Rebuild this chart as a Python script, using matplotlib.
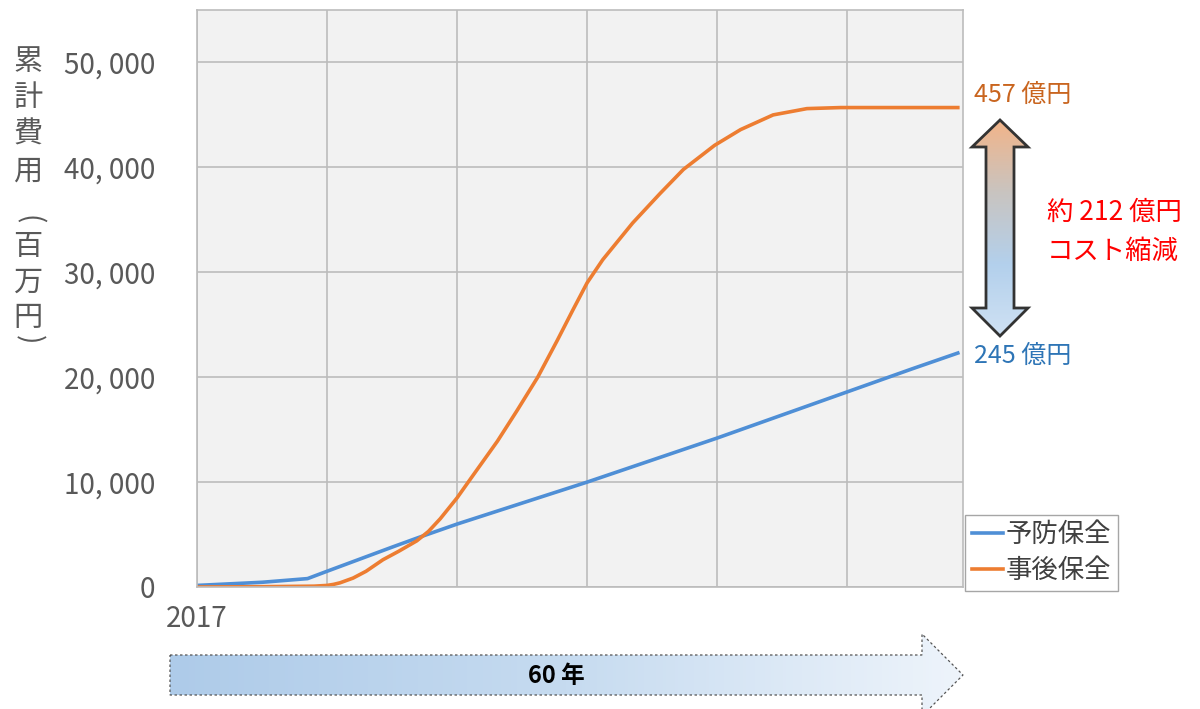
import numpy as np
import matplotlib
matplotlib.use("Agg")
from matplotlib import pyplot as plt
from matplotlib.patches import Polygon
from matplotlib.colors import LinearSegmentedColormap

plt.rcParams['font.family'] = ['Noto Sans CJK JP', 'DejaVu Sans']

# data (years after 2017, cumulative cost in million yen)
start_year = 2017
yobo_years = [0, 5, 8.5, 10, 15, 17, 20, 25, 30, 35, 40, 45, 50, 55, 58.5]
yobo_cost = [150, 450, 800, 1500, 3800, 4700, 6000, 8000, 10000, 12100, 14200, 16400, 18600, 20800, 22300]

jigo_years = [0, 5, 9, 10, 10.5, 11, 12, 13, 14.3, 15.5, 16.9, 17.8, 18.7, 20, 21.2, 23.1, 24.6,
              26.2, 27.7, 28.9, 30, 31.2, 33.5, 35.6, 37.4, 39.8, 41.8, 44.3, 46.9, 49.5, 58.5]
jigo_cost = [0, 30, 80, 150, 250, 400, 850, 1500, 2600, 3400, 4400, 5300, 6500, 8500, 10600, 13900,
             16800, 20000, 23500, 26400, 29000, 31200, 34700, 37500, 39800, 42100, 43600, 45000,
             45600, 45700, 45700]

series_names = ['予防保全', '事後保全']
series_colors = ['#4f8fd6', '#ed7d31']

y_ticks = [0, 10000, 20000, 30000, 40000, 50000]
y_labels = ['0', '10, 000', '20, 000', '30, 000', '40, 000', '50, 000']
x_grid = [0, 10, 20, 30, 40, 50]
y_title = '累計費用（百万円）'

label_after = '457 億円'
label_before = '245 億円'
label_diff = ['約 212 億円', 'コスト縮減']
label_span = '60 年'

fig = plt.figure(figsize=(12, 7.09), dpi=100)
ax = fig.add_axes([197 / 1200, 122 / 709, 766 / 1200, 577 / 709])
ax.set_facecolor('#f2f2f2')

ax.plot(yobo_years, yobo_cost, color=series_colors[0], lw=2.6, label=series_names[0],
        solid_joinstyle='round')
ax.plot(jigo_years, jigo_cost, color=series_colors[1], lw=2.6, label=series_names[1],
        solid_joinstyle='round')

ax.set_xlim(0, 58.9)
ax.set_ylim(0, 55000)
ax.set_yticks(y_ticks)
ax.set_yticklabels(y_labels)
ax.set_xticks(x_grid)
ax.set_xticklabels([str(start_year)] + [''] * (len(x_grid) - 1))
ax.grid(True, color='#bcbcbc', lw=1.2)
ax.set_axisbelow(True)
ax.tick_params(length=0, labelsize=20, labelcolor='#595959')
ax.tick_params(axis='y', pad=30)
ax.tick_params(axis='x', pad=12)
for s in ax.spines.values():
    s.set_color('#bcbcbc')
    s.set_linewidth(1.2)

leg = ax.legend(loc='lower left', bbox_to_anchor=(965 / 1200, 118 / 709),
                bbox_transform=fig.transFigure, fontsize=19, frameon=True,
                fancybox=False, edgecolor='#a6a6a6', framealpha=1,
                handlelength=1.2, handletextpad=0.1, labelspacing=0.35,
                borderpad=0.25, borderaxespad=0)
for t in leg.get_texts():
    t.set_color('#404040')
leg.get_frame().set_linewidth(1.0)

# overlay in pixel coordinates for the annotations
ov = fig.add_axes([0, 0, 1, 1])
ov.set_axis_off()
ov.patch.set_visible(False)

# y title, stacked vertically (brackets turned like vertical writing)
title_y = [62, 98, 135, 172, 220, 247, 283, 318, 340]
for ch, yy in zip(y_title, title_y):
    if ch in '（）':
        ov.text(28, yy, '(' if ch == '（' else ')', fontsize=20, color='#595959',
                ha='center', va='center', rotation=270)
    else:
        ov.text(28, yy, ch, fontsize=21, color='#595959', ha='center', va='center')

# 60 year arrow
span_pts = [(170, 655), (922, 655), (922, 634), (963, 675), (922, 716), (922, 695), (170, 695)]
span_poly = Polygon(span_pts, closed=True, fill=False, edgecolor='#555555', lw=0.9,
                    ls=(0, (2, 2)), zorder=3)
ov.add_patch(span_poly)
cm_span = LinearSegmentedColormap.from_list('span', ['#aecbe9', '#c6dbf0', '#eef4fb'])
grad = np.linspace(0, 1, 256).reshape(1, -1)
im = ov.imshow(grad, extent=[170, 963, 716, 634], cmap=cm_span, aspect='auto', zorder=2)
im.set_clip_path(span_poly)
ov.text(556, 676, label_span, fontsize=17, fontweight='bold', color='black',
        ha='center', va='center', zorder=4)

# double arrow showing the reduction
dbl_pts = [(1000, 120), (1028, 147), (1014, 147), (1014, 308), (1028, 308), (1000, 336),
           (972, 308), (986, 308), (986, 147), (972, 147)]
dbl_poly = Polygon(dbl_pts, closed=True, fill=False, edgecolor='#333333', lw=2, zorder=3,
                   joinstyle='miter')
ov.add_patch(dbl_poly)
cm_dbl = LinearSegmentedColormap.from_list('dbl', ['#f2b489', '#c9c4c0', '#b3d0ec', '#cfe1f3'])
grad_v = np.linspace(0, 1, 256).reshape(-1, 1)
im2 = ov.imshow(grad_v, extent=[972, 1028, 336, 120], cmap=cm_dbl, aspect='auto', zorder=2)
im2.set_clip_path(dbl_poly)

ov.text(974, 95, label_after, fontsize=18, color='#c9651f', ha='left', va='center')
ov.text(974, 356, label_before, fontsize=18, color='#2e75b6', ha='left', va='center')
ov.text(1047, 212, label_diff[0], fontsize=19, color='#ff0000', ha='left', va='center')
ov.text(1047, 251, label_diff[1], fontsize=19, color='#ff0000', ha='left', va='center')

ov.set_xlim(0, 1200)
ov.set_ylim(709, 0)

fig.savefig('out.png', dpi=100)
